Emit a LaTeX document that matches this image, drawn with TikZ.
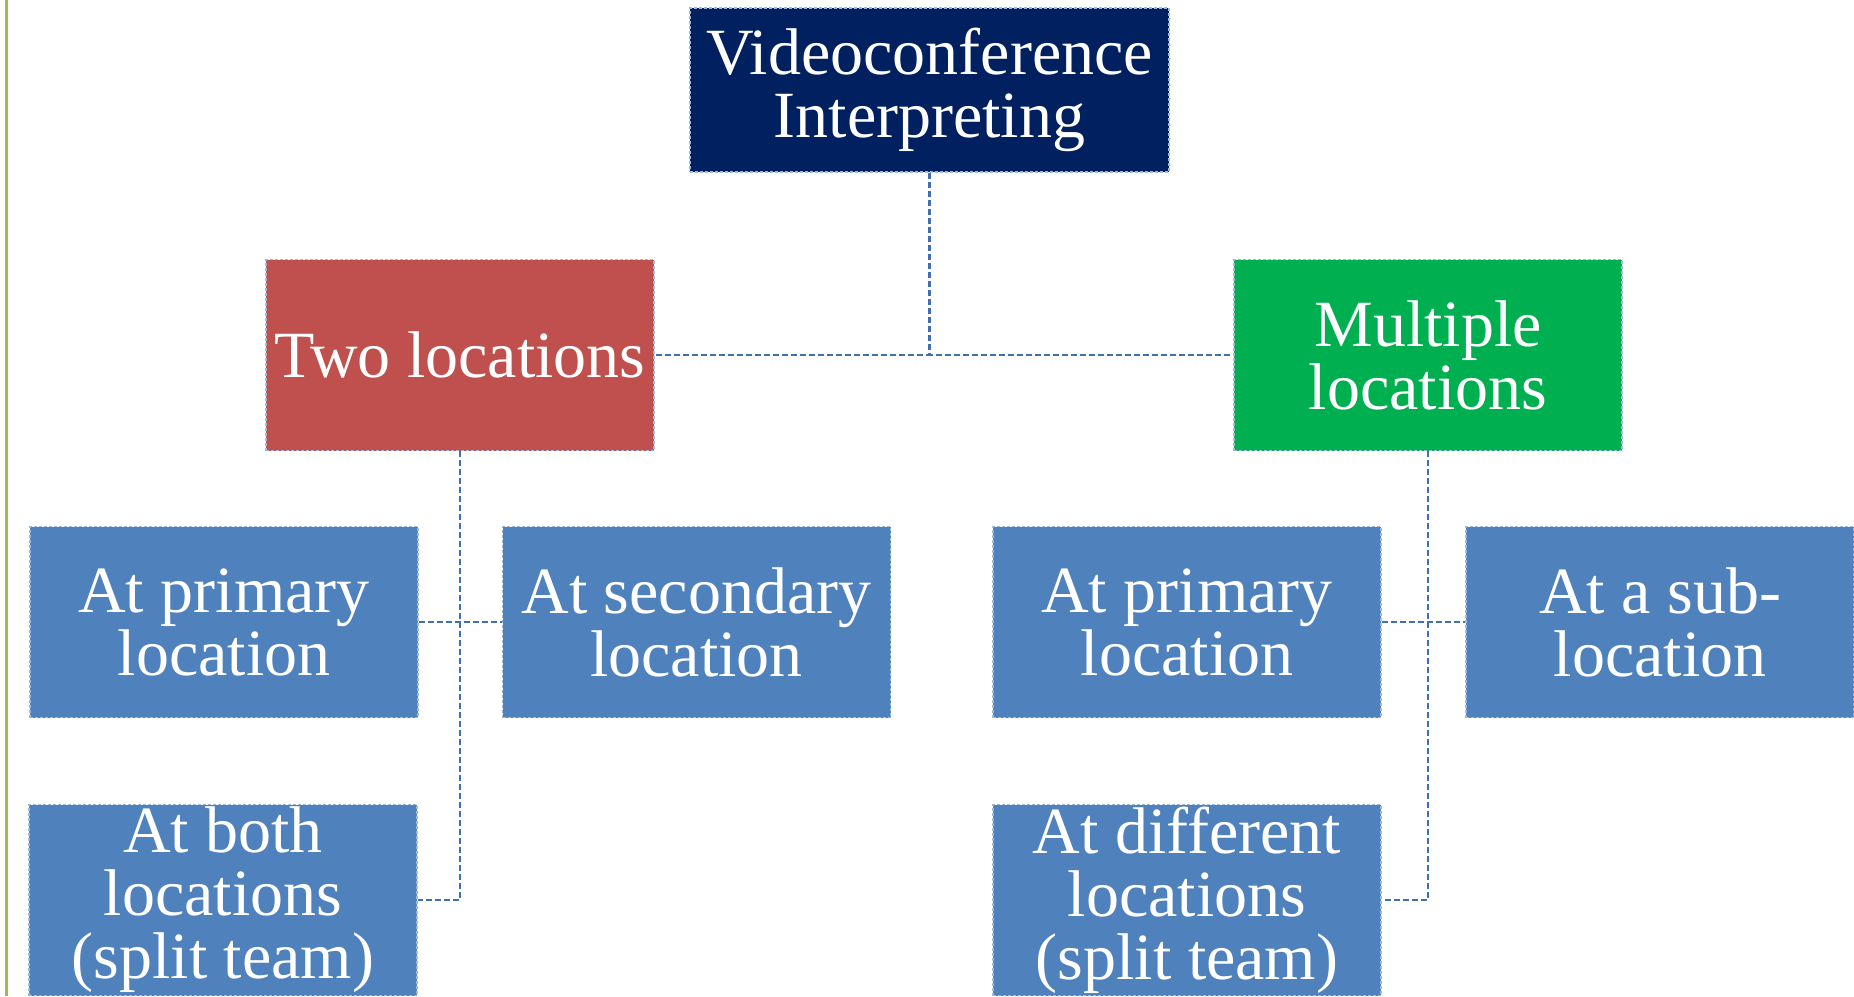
\documentclass[tikz,border=0pt]{standalone}
\usepackage{fontspec}
\setmainfont{Liberation Serif}
\usepackage{tikz}
\definecolor{vcnavy}{HTML}{002060}
\definecolor{vcred}{HTML}{C0504D}
\definecolor{vcgreen}{HTML}{00B050}
\definecolor{vcblue}{HTML}{4F81BD}
\definecolor{vclink}{HTML}{416FB0}
\definecolor{vcedge}{HTML}{9BBB59}
\tikzset{
  boite/.style={draw=white!45!vcblue, dash pattern=on 3pt off 2pt, line width=1.8pt,
    text=white, align=center, inner sep=0pt,
    font=\fontsize{66}{63}\selectfont,
    minimum width=388pt, minimum height=191pt},
  lien/.style={draw=vclink, line width=2.3pt, dash pattern=on 6pt off 3pt}
}

\begin{document}
\begin{tikzpicture}[x=1pt, y=-1pt]

        \clip (0, 0) rectangle (1854, 996);

        % trait vert
        \draw[vcedge, line width=3pt] (6, 0) -- (6, 996);

        % haut
        \node[boite, fill=vcnavy, minimum width=479pt, minimum height=164pt] (vc) at (929.5, 90) {Videoconference\\Interpreting};

        \node[boite, fill=vcred] (two) at (460, 355) {Two locations};
        \node[boite, fill=vcgreen] (multi) at (1428, 355) {Multiple\\locations};

        % deux lieux
        \node[boite, fill=vcblue] (tprim) at (224, 622) {At primary\\location};
        \node[boite, fill=vcblue] (tsec) at (696.5, 622) {At secondary\\location};
        \node[boite, fill=vcblue] (tboth) at (223, 900) {At both\\locations\\(split team)};

        % plusieurs lieux
        \node[boite, fill=vcblue] (mprim) at (1187, 622) {At primary\\location};
        \node[boite, fill=vcblue] (msub) at (1660, 622) {At a sub-\\location};
        \node[boite, fill=vcblue] (mdiff) at (1187, 900) {At different\\locations\\(split team)};

        % liens
        \draw[lien] (vc.south) |- (two.east);
        \draw[lien] (vc.south) |- (multi.west);
        \draw[lien] (two.south) |- (tboth.east);
        \draw[lien] (tprim.east) -- (tsec.west);
        \draw[lien] (multi.south) |- (mdiff.east);
        \draw[lien] (mprim.east) -- (msub.west);

\end{tikzpicture}
\end{document}
